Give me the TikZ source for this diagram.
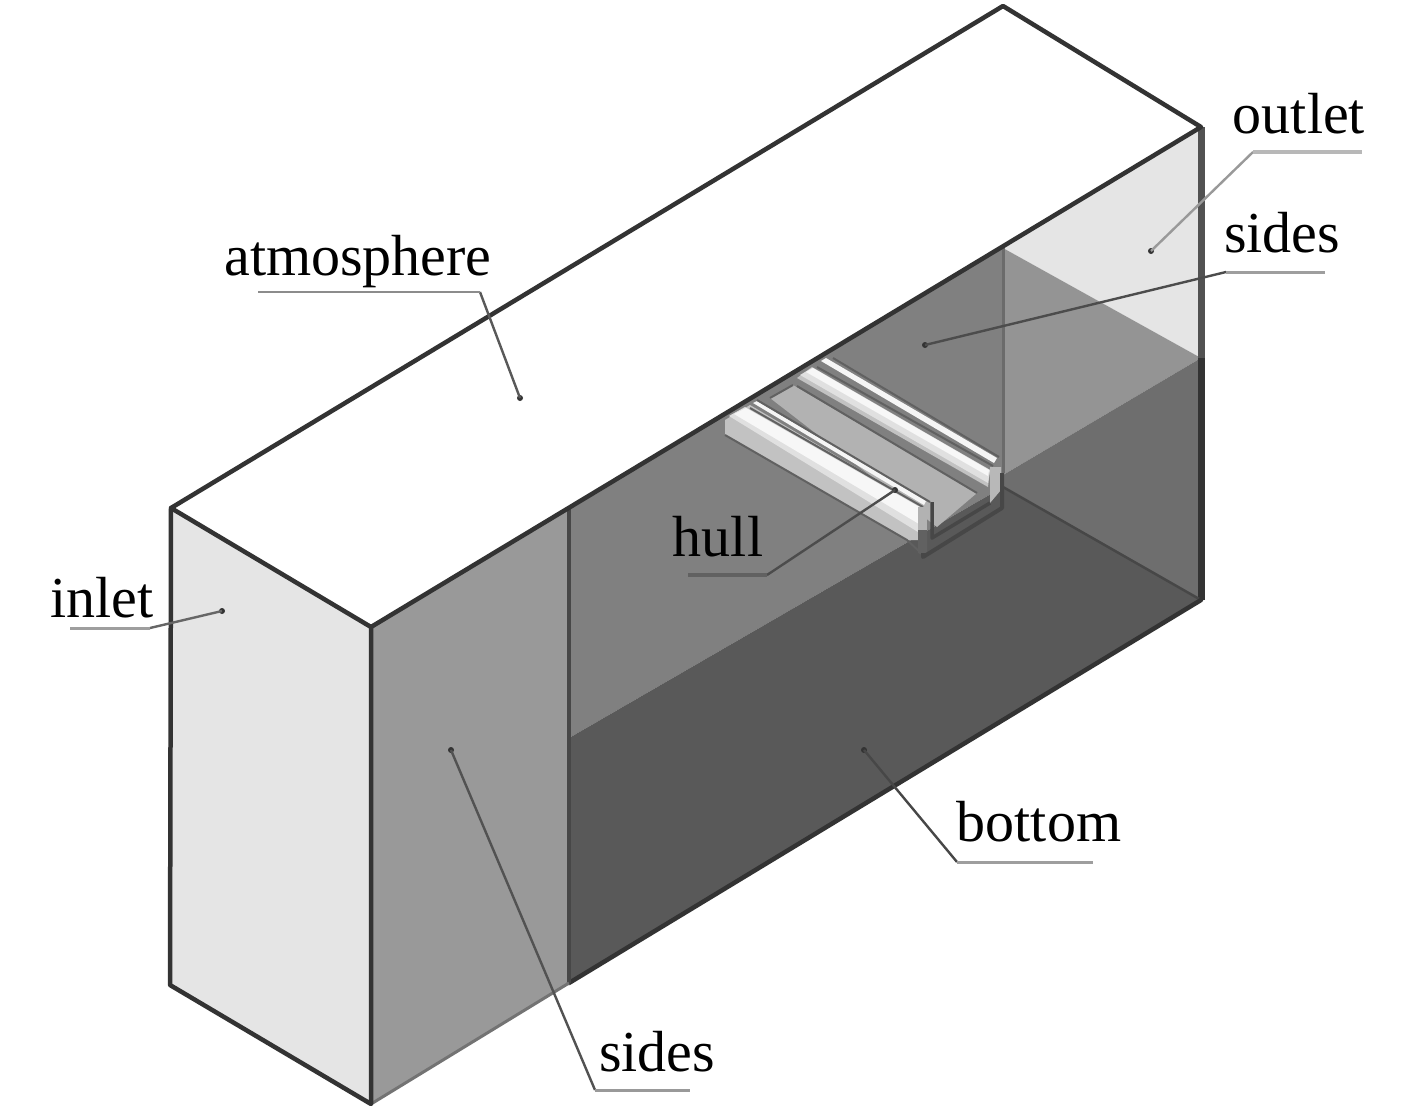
\documentclass[tikz,border=0pt]{standalone}
\usepackage{fontspec}
\setmainfont{Liberation Serif}
\tikzset{
  lab/.style={anchor=base,inner sep=0pt,font=\fontsize{58}{60}\selectfont,text=black},
  dotn/.style={circle,fill=black!80,inner sep=0pt,minimum size=6pt},
  lead/.style={line width=2.4pt,draw=#1,line join=round},
  lead/.default={black!65},
  shelf/.style={line width=2pt,draw=black!62},
  edge/.style={line width=4.5pt,draw=black!80,line join=round,line cap=round}
}
\definecolor{faceL}{gray}{0.90}
\definecolor{faceS}{gray}{0.60}
\definecolor{wall}{gray}{0.50}
\definecolor{floorD}{gray}{0.35}
\definecolor{lowR}{gray}{0.43}
\begin{document}
\begin{tikzpicture}[x=1pt,y=-1pt]
\useasboundingbox (0,0) rectangle (1417,1112);
\fill[white] (0,0) rectangle (1417,1112);
% box faces
\fill[faceL] (171,508) -- (371,627) -- (371,1104) -- (170,985) -- cycle;
\fill[faceS] (371,627) -- (569,508) -- (569,983) -- (371,1104) -- cycle;
\fill[wall] (569,508) -- (1003,248) -- (1003,487) -- (569,738) -- cycle;
\fill[floorD] (569,738) -- (1003,487) -- (1201,600) -- (569,983) -- cycle;
\fill[faceL] (1003,248) -- (1201,127) -- (1201,358) -- cycle;
\fill[faceS!105] (1003,248) -- (1201,358) -- (1003,475) -- cycle;
\fill[lowR] (1201,358) -- (1201,600) -- (1003,487) -- (1003,475) -- cycle;
% hull: channel floor
\fill[black!30] (770,398) -- (793,385) -- (977,493) -- (937,527) -- cycle;
% hull: left flange
\fill[black!24] (725,420) -- (750,405) -- (923,507) -- (918,540) -- (907,540) -- (725,435) -- cycle;
\fill[black!12] (729,416) -- (745,407) -- (922,508) -- (918,532) -- cycle;
\fill[black!3] (734,414) -- (746,408) -- (921,508) -- (919,524) -- cycle;
\draw[shelf] (750,408) -- (923,507);
\fill[black!4] (753,403) -- (757,401) -- (926,501) -- (924,505) -- cycle;
\draw[shelf] (757,400) -- (930,502);
\draw[shelf] (725,435) -- (907,540) -- (921,553);
\draw[shelf] (770,398) -- (793,385);
% hull: right flange
\fill[black!24] (797,378) -- (812,367) -- (990,470) -- (988,487) -- cycle;
\fill[black!12] (800,375) -- (812,368) -- (990,470) -- (988,483) -- cycle;
\fill[black!3] (806,372) -- (813,368) -- (989,470) -- (988,476) -- cycle;
\draw[shelf] (817,367) -- (993,466);
\fill[black!4] (821,361) -- (826,358) -- (997,458) -- (994,463) -- cycle;
\draw[shelf] (833,358) -- (999,457);
\draw[shelf] (797,386) -- (977,493);
% hull: end section
\fill[black!28] (990,467) -- (1001,467) -- (1001,490) -- (990,503) -- cycle;
\fill[black!30] (918,507) -- (927,507) -- (927,530) -- (918,530) -- cycle;
\fill[black!62] (918,530) -- (927,530) -- (927,557) -- (918,553) -- cycle;
\draw[line width=4pt,draw=black!72,line join=round] (923,553) -- (923,557) -- (1002,508) -- (1002,473);
\draw[line width=3.5pt,draw=black!72,line join=round] (932,502) -- (932,538) -- (990,503);
% edges
\draw[line width=3pt,draw=black!58] (1003,248) -- (1003,473);
\draw[line width=7pt,draw=black!68] (1201,127) -- (1201,358);
\draw[line width=7pt,draw=black!80] (1201,358) -- (1201,600);
\draw[line width=2.5pt,draw=black!72] (1003,487) -- (1201,600);
\draw[edge] (569,983) -- (1201,600);
\draw[line width=4.5pt,draw=black!72] (569,508) -- (569,983);
\draw[line width=3pt,draw=black!55] (371,1104) -- (569,983);
\draw[edge] (171,508) -- (1003,6) -- (1201,127) -- (371,627) -- cycle;
\draw[edge] (371,627) -- (371,1104) -- (170,985) -- (171,508);
% labels
\node[lab] (tAtm) at (358,275) {atmosphere};
\node[lab] (tOut) at (1299,133) {outlet};
\node[lab] (tSidR) at (1282,252) {sides};
\node[lab] (tHull) at (718,556) {hull};
\node[lab] (tIn) at (102,617) {inlet};
\node[lab] (tBot) at (1039,841) {bottom};
\node[lab] (tSidL) at (657,1071) {sides};
% dots
\node[dotn] (dAtm) at (520,398) {};
\node[dotn] (dOut) at (1151,251) {};
\node[dotn] (dSidR) at (925,345) {};
\node[dotn] (dHull) at (895,490) {};
\node[dotn] (dIn) at (222,611) {};
\node[dotn] (dBot) at (864,750) {};
\node[dotn] (dSidL) at (451,750) {};
% leader elbows and ends
\coordinate (eAtm) at (480,292); \coordinate (fAtm) at (258,292);
\coordinate (eOut) at (1253,152); \coordinate (fOut) at (1362,152);
\coordinate (eSidR) at (1226,272); \coordinate (fSidR) at (1325,272);
\coordinate (eHull) at (767,575); \coordinate (fHull) at (688,575);
\coordinate (eIn) at (150,628); \coordinate (fIn) at (70,628);
\coordinate (eBot) at (957,862); \coordinate (fBot) at (1093,862);
\coordinate (eSidL) at (595,1090); \coordinate (fSidL) at (690,1090);
\draw[lead] (dAtm.center) -- (eAtm);
\draw[lead=black!45] (eAtm) -- (fAtm);
\draw[lead=black!40] (dOut.center) -- (eOut);
\draw[lead=black!28,line width=4pt] (eOut) -- (fOut);
\draw[lead=black!70] (dSidR.center) -- (eSidR);
\draw[lead=black!38,line width=3pt] (eSidR) -- (fSidR);
\draw[lead=black!70] (dHull.center) -- (eHull);
\draw[lead=black!62,line width=3.5pt] (eHull) -- (fHull);
\draw[lead=black!60] (dIn.center) -- (eIn);
\draw[lead=black!38,line width=3pt] (eIn) -- (fIn);
\draw[lead=black!72] (dBot.center) -- (eBot);
\draw[lead=black!38,line width=3pt] (eBot) -- (fBot);
\draw[lead=black!68] (dSidL.center) -- (eSidL);
\draw[lead=black!40,line width=3pt] (eSidL) -- (fSidL);
\end{tikzpicture}
\end{document}
